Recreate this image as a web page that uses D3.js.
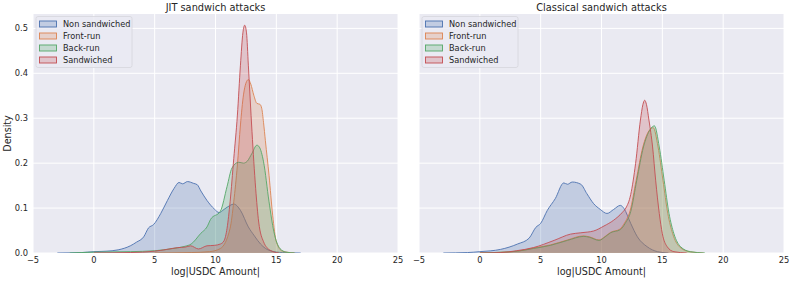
<!DOCTYPE html>
<html lang="en">
<head>
    <meta charset="UTF-8">
    <title>Sandwich attack amounts</title>
    <style>
        body {
            margin: 0;
            background: #fff;
            font-family: "DejaVu Sans", sans-serif;
        }
        svg text {
            fill: #262626;
        }
        .grid line {
            stroke: #fff;
            stroke-width: 1;
        }
    </style>
    <script src="https://d3js.org/d3.v7.min.js"></script>
</head>
<body>
    <svg width="793" height="281"></svg>

    <script>
        // series names and colours (seaborn "deep")
        const seriesNames = ["Non sandwiched", "Front-run", "Back-run", "Sandwiched"];
        const seriesColors = ["#4c72b0", "#dd8452", "#55a868", "#c44e52"];

        const xTicks = [-5, 0, 5, 10, 15, 20, 25];
        const yTicks = [0.0, 0.1, 0.2, 0.3, 0.4, 0.5];

        // JIT sandwich attacks: [log amount, density]
        const jitNon = [[-3,0],[-1,0.001],[0,0.003],[1,0.004],[2,0.007],[3,0.016],[3.5,0.024],[4.1,0.036],[4.5,0.056],[4.9,0.063],[5.5,0.088],[6.05,0.117],[6.6,0.144],[7.0,0.157],[7.3,0.154],[7.7,0.159],[8.2,0.155],[8.5,0.152],[8.8,0.138],[9.3,0.117],[9.9,0.098],[10.3,0.090],[10.7,0.097],[11.2,0.106],[11.5,0.109],[12.05,0.095],[12.7,0.058],[13.2,0.038],[13.7,0.02],[14.5,0.005],[15.5,0.001],[17,0]];
        const jitFront = [[5,0],[8,0.001],[9.5,0.003],[10.4,0.010],[11.2,0.055],[11.5,0.114],[11.8,0.196],[12.05,0.285],[12.3,0.352],[12.5,0.378],[12.7,0.386],[12.9,0.376],[13.15,0.351],[13.4,0.333],[13.65,0.331],[13.8,0.322],[13.95,0.29],[14.1,0.25],[14.4,0.173],[14.7,0.084],[15.0,0.025],[15.5,0.004],[16.5,0]];
        const jitBack = [[-2,0],[0,0.002],[3,0.003],[5,0.005],[6.5,0.01],[7.5,0.015],[8.0,0.02],[8.8,0.044],[9.3,0.058],[9.6,0.075],[10.4,0.093],[10.95,0.148],[11.35,0.189],[11.9,0.202],[12.3,0.200],[12.6,0.204],[13.0,0.222],[13.4,0.240],[13.6,0.236],[13.95,0.203],[14.4,0.114],[14.8,0.047],[15.3,0.01],[15.8,0.002],[16.5,0]];
        const jitSand = [[0,0],[3,0.001],[5,0.004],[6,0.008],[6.9,0.012],[7.5,0.013],[7.95,0.016],[8.6,0.009],[9.3,0.016],[9.9,0.017],[10.4,0.02],[10.7,0.027],[10.95,0.055],[11.2,0.114],[11.5,0.21],[11.8,0.307],[12.05,0.418],[12.25,0.49],[12.4,0.507],[12.55,0.49],[12.7,0.418],[13.0,0.27],[13.3,0.144],[13.55,0.069],[13.95,0.025],[14.5,0.006],[15.2,0]];

        // Classical sandwich attacks
        const clsNon = [[-3,0],[-1,0.001],[0,0.003],[1.7,0.008],[3.1,0.02],[4.05,0.033],[4.6,0.057],[5.0,0.066],[5.55,0.095],[6.2,0.121],[6.9,0.156],[7.2,0.153],[7.6,0.158],[8.3,0.153],[8.8,0.132],[9.35,0.11],[9.9,0.097],[10.45,0.088],[11.0,0.097],[11.55,0.106],[11.85,0.099],[12.4,0.066],[12.95,0.036],[13.75,0.014],[14.6,0.003],[15.5,0]];
        const clsFront = [[0,0],[2,0.002],[3.1,0.004],[4.4,0.011],[5.8,0.018],[7.2,0.029],[8.5,0.038],[9.0,0.036],[9.8,0.029],[10.3,0.037],[10.75,0.046],[11.5,0.053],[11.9,0.067],[12.35,0.094],[12.85,0.162],[13.4,0.236],[13.9,0.272],[14.25,0.279],[14.65,0.236],[15.05,0.162],[15.45,0.088],[15.85,0.043],[16.4,0.014],[17.2,0.003],[18.4,0]];
        const clsBack = [[0,0],[2,0.002],[3.1,0.004],[4.4,0.01],[5.8,0.017],[7.2,0.028],[8.55,0.037],[9.0,0.035],[9.8,0.028],[10.3,0.036],[10.75,0.045],[11.55,0.052],[11.95,0.066],[12.4,0.092],[12.9,0.162],[13.45,0.236],[14.0,0.275],[14.35,0.283],[14.75,0.236],[15.15,0.162],[15.55,0.088],[15.95,0.043],[16.5,0.014],[17.3,0.003],[18.5,0]];
        const clsSand = [[0,0],[1.7,0.001],[3,0.005],[4.4,0.012],[6.1,0.028],[7.45,0.042],[8.3,0.045],[9.35,0.049],[10.2,0.06],[11.0,0.073],[11.7,0.09],[12.0,0.1],[12.4,0.13],[12.8,0.199],[13.2,0.296],[13.4,0.33],[13.55,0.34],[13.7,0.33],[13.9,0.296],[14.2,0.236],[14.45,0.162],[14.75,0.088],[15.0,0.043],[15.4,0.014],[15.95,0.003],[17,0]];

        const panels = [
            {title: "JIT sandwich attacks", left: 33, right: 398, series: [jitNon, jitFront, jitBack, jitSand], yLabels: true},
            {title: "Classical sandwich attacks", left: 419, right: 784, series: [clsNon, clsFront, clsBack, clsSand], yLabels: false}
        ];

        const plotTop = 14, plotBottom = 253;
        const svg = d3.select("svg");

        const y = d3.scaleLinear().domain([0, 0.532]).range([plotBottom, plotTop]);

        panels.forEach(p => {
            const x = d3.scaleLinear().domain([-5, 25]).range([p.left, p.right]);
            const g = svg.append("g");

            g.append("rect")
                .attr("x", p.left).attr("y", plotTop)
                .attr("width", p.right - p.left).attr("height", plotBottom - plotTop)
                .attr("fill", "#eaeaf2");

            // clip the curves to the axes
            const clipId = "clip" + p.left;
            g.append("clipPath").attr("id", clipId)
                .append("rect")
                .attr("x", p.left).attr("y", plotTop)
                .attr("width", p.right - p.left).attr("height", plotBottom - plotTop);

            const grid = g.append("g").attr("class", "grid");
            grid.selectAll(".vx").data(xTicks).enter().append("line")
                .attr("x1", d => x(d)).attr("x2", d => x(d))
                .attr("y1", plotTop).attr("y2", plotBottom);
            grid.selectAll(".hy").data(yTicks).enter().append("line")
                .attr("x1", p.left).attr("x2", p.right)
                .attr("y1", d => y(d)).attr("y2", d => y(d));

            const area = d3.area()
                .x(d => x(d[0]))
                .y0(y(0))
                .y1(d => y(d[1]))
                .curve(d3.curveMonotoneX);
            const line = d3.line()
                .x(d => x(d[0]))
                .y(d => y(d[1]))
                .curve(d3.curveMonotoneX);

            const curves = g.append("g").attr("clip-path", `url(#${clipId})`);
            p.series.forEach((s, i) => {
                curves.append("path")
                    .attr("d", area(s))
                    .attr("fill", seriesColors[i])
                    .attr("fill-opacity", 0.25);
                curves.append("path")
                    .attr("d", line(s))
                    .attr("fill", "none")
                    .attr("stroke", seriesColors[i])
                    .attr("stroke-width", 0.9);
            });

            // x axis labels (no tick marks in darkgrid)
            g.selectAll(".xt").data(xTicks).enter().append("text")
                .attr("x", d => x(d)).attr("y", 263)
                .attr("text-anchor", "middle")
                .attr("font-size", 8.3)
                .text(d => d < 0 ? "\u2212" + Math.abs(d) : d);

            if (p.yLabels) {
                g.selectAll(".yt").data(yTicks).enter().append("text")
                    .attr("x", p.left - 5).attr("y", d => y(d) + 3)
                    .attr("text-anchor", "end")
                    .attr("font-size", 8.3)
                    .text(d => d.toFixed(1));
                g.append("text")
                    .attr("transform", `translate(11,${(plotTop + plotBottom) / 2}) rotate(-90)`)
                    .attr("text-anchor", "middle")
                    .attr("font-size", 9.6)
                    .text("Density");
            }

            g.append("text")
                .attr("x", (p.left + p.right) / 2).attr("y", 275)
                .attr("text-anchor", "middle")
                .attr("font-size", 9.6)
                .text("log|USDC Amount|");

            g.append("text")
                .attr("x", (p.left + p.right) / 2).attr("y", 10.5)
                .attr("text-anchor", "middle")
                .attr("font-size", 9.8)
                .text(p.title);

            // legend
            const lg = g.append("g").attr("transform", `translate(${p.left + 3},${plotTop + 2.5})`);
            lg.append("rect")
                .attr("width", 96).attr("height", 51)
                .attr("rx", 2)
                .attr("fill", "#eaeaf2").attr("fill-opacity", 0.8)
                .attr("stroke", "#d5d5dc").attr("stroke-width", 0.8);
            seriesNames.forEach((name, i) => {
                const row = lg.append("g").attr("transform", `translate(3,${4 + i * 12})`);
                row.append("rect")
                    .attr("x", 0.5).attr("y", 0.5)
                    .attr("width", 17).attr("height", 6)
                    .attr("fill", seriesColors[i]).attr("fill-opacity", 0.25)
                    .attr("stroke", seriesColors[i]).attr("stroke-width", 0.9);
                row.append("text")
                    .attr("x", 24).attr("y", 6.5)
                    .attr("font-size", 8.2)
                    .text(name);
            });
        });
    </script>
</body>
</html>
